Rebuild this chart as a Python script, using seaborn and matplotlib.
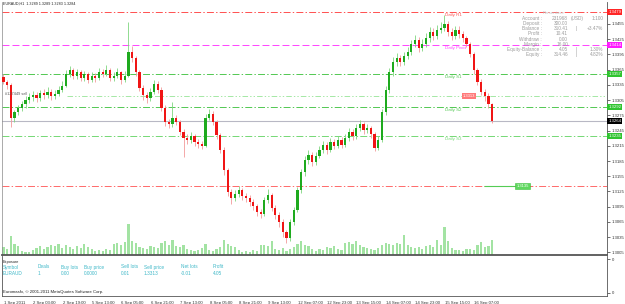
import matplotlib
matplotlib.use("Agg")
import matplotlib.pyplot as plt
import matplotlib.transforms as mtransforms
import numpy as np
import pandas as pd
import seaborn as sns

# EURAUD H1, grouped two bars per candle
first_open = 1.3350
closes = [
    1.3341, 1.3335, 1.3270, 1.3282, 1.3290, 1.3297, 1.3305, 1.3311, 1.3315, 1.3309,
    1.3319, 1.3315, 1.3321, 1.3313, 1.3317, 1.3325, 1.3333, 1.3357, 1.3364, 1.3353,
    1.3360, 1.3349, 1.3357, 1.3345, 1.3353, 1.3349, 1.3360, 1.3357, 1.3364, 1.3349,
    1.3353, 1.3360, 1.3345, 1.3353, 1.3400, 1.3388, 1.3360, 1.3329, 1.3315, 1.3309,
    1.3321, 1.3337, 1.3325, 1.3290, 1.3262, 1.3258, 1.3270, 1.3262, 1.3242, 1.3230,
    1.3227, 1.3234, 1.3223, 1.3219, 1.3215, 1.3270, 1.3278, 1.3262, 1.3236, 1.3207,
    1.3167, 1.3124, 1.3112, 1.3120, 1.3128, 1.3116, 1.3112, 1.3104, 1.3097, 1.3085,
    1.3081, 1.3108, 1.3118, 1.3093, 1.3079, 1.3065, 1.3045, 1.3033, 1.3065, 1.3089,
    1.3128, 1.3163, 1.3187, 1.3197, 1.3183, 1.3195, 1.3207, 1.3217, 1.3207, 1.3223,
    1.3215, 1.3227, 1.3217, 1.3230, 1.3242, 1.3234, 1.3250, 1.3258, 1.3246, 1.3250,
    1.3238, 1.3211, 1.3227, 1.3282, 1.3325, 1.3360, 1.3380, 1.3388, 1.3380, 1.3392,
    1.3400, 1.3416, 1.3424, 1.3408, 1.3416, 1.3427, 1.3439, 1.3431, 1.3443, 1.3447,
    1.3455, 1.3439, 1.3431, 1.3443, 1.3435, 1.3427, 1.3416, 1.3396, 1.3364, 1.3341,
    1.3321, 1.3313, 1.3297, 1.3264]
highs = [
    1.3356, 1.3345, 1.3338, 1.3286, 1.3296, 1.3303, 1.3312, 1.3318, 1.3322, 1.3320,
    1.3325, 1.3327, 1.3330, 1.3326, 1.3324, 1.3332, 1.3342, 1.3364, 1.3372, 1.3368,
    1.3367, 1.3364, 1.3363, 1.3360, 1.3360, 1.3358, 1.3368, 1.3366, 1.3374, 1.3368,
    1.3360, 1.3368, 1.3363, 1.3362, 1.3459, 1.3412, 1.3392, 1.3364, 1.3334, 1.3320,
    1.3328, 1.3345, 1.3342, 1.3330, 1.3295, 1.3268, 1.3301, 1.3276, 1.3266, 1.3248,
    1.3238, 1.3242, 1.3238, 1.3228, 1.3224, 1.3278, 1.3288, 1.3284, 1.3266, 1.3240,
    1.3212, 1.3172, 1.3130, 1.3128, 1.3136, 1.3132, 1.3122, 1.3118, 1.3110, 1.3100,
    1.3090, 1.3114, 1.3130, 1.3122, 1.3098, 1.3084, 1.3070, 1.3050, 1.3070, 1.3094,
    1.3134, 1.3170, 1.3194, 1.3206, 1.3202, 1.3202, 1.3214, 1.3224, 1.3222, 1.3230,
    1.3228, 1.3234, 1.3232, 1.3238, 1.3250, 1.3248, 1.3258, 1.3266, 1.3262, 1.3258,
    1.3254, 1.3242, 1.3234, 1.3288, 1.3332, 1.3368, 1.3390, 1.3398, 1.3394, 1.3400,
    1.3410, 1.3424, 1.3434, 1.3430, 1.3425, 1.3436, 1.3448, 1.3446, 1.3452, 1.3458,
    1.3473, 1.3460, 1.3446, 1.3450, 1.3450, 1.3440, 1.3432, 1.3420, 1.3400, 1.3368,
    1.3346, 1.3326, 1.3318, 1.3300]
lows = [
    1.3336, 1.3326, 1.3252, 1.3262, 1.3276, 1.3284, 1.3290, 1.3300, 1.3303, 1.3302,
    1.3304, 1.3308, 1.3310, 1.3306, 1.3307, 1.3312, 1.3320, 1.3330, 1.3350, 1.3346,
    1.3347, 1.3342, 1.3343, 1.3338, 1.3340, 1.3341, 1.3345, 1.3350, 1.3352, 1.3342,
    1.3343, 1.3348, 1.3336, 1.3340, 1.3350, 1.3380, 1.3352, 1.3322, 1.3306, 1.3300,
    1.3303, 1.3316, 1.3318, 1.3284, 1.3254, 1.3250, 1.3252, 1.3255, 1.3236, 1.3193,
    1.3218, 1.3220, 1.3215, 1.3210, 1.3208, 1.3212, 1.3266, 1.3256, 1.3228, 1.3200,
    1.3158, 1.3116, 1.3100, 1.3106, 1.3114, 1.3108, 1.3104, 1.3096, 1.3088, 1.3076,
    1.3072, 1.3076, 1.3102, 1.3086, 1.3070, 1.3056, 1.3036, 1.3024, 1.3028, 1.3060,
    1.3084, 1.3122, 1.3156, 1.3180, 1.3176, 1.3178, 1.3190, 1.3200, 1.3198, 1.3202,
    1.3208, 1.3210, 1.3210, 1.3212, 1.3225, 1.3226, 1.3228, 1.3244, 1.3238, 1.3240,
    1.3230, 1.3204, 1.3206, 1.3222, 1.3276, 1.3318, 1.3352, 1.3372, 1.3372, 1.3374,
    1.3386, 1.3394, 1.3410, 1.3400, 1.3402, 1.3410, 1.3420, 1.3424, 1.3426, 1.3436,
    1.3440, 1.3432, 1.3424, 1.3426, 1.3428, 1.3420, 1.3410, 1.3390, 1.3356, 1.3334,
    1.3314, 1.3304, 1.3290, 1.3260]
volumes = [
    8, 6, 19, 11, 9, 4, 3, 3, 5, 7,
    9, 6, 8, 10, 9, 11, 7, 10, 8, 6,
    9, 7, 11, 8, 6, 4, 5, 4, 6, 5,
    11, 12, 10, 13, 31, 14, 12, 8, 7, 6,
    9, 8, 7, 12, 14, 10, 15, 9, 8, 10,
    6, 5, 4, 5, 7, 11, 5, 4, 6, 8,
    15, 11, 9, 8, 5, 3, 4, 3, 5, 4,
    10, 10, 9, 14, 6, 5, 7, 4, 6, 8,
    11, 14, 10, 9, 6, 4, 6, 5, 8, 7,
    9, 6, 5, 12, 13, 11, 14, 10, 8, 7,
    6, 5, 7, 10, 12, 11, 10, 12, 11, 20,
    10, 8, 7, 8, 6, 9, 10, 8, 15, 10,
    28, 14, 7, 5, 5, 4, 6, 6, 5, 10,
    13, 8, 9, 15]

time_labels = ["1 Sep 2011", "2 Sep 03:00", "2 Sep 19:00", "5 Sep 13:00", "6 Sep 05:00",
               "6 Sep 21:00", "7 Sep 13:00", "8 Sep 05:00", "8 Sep 21:00", "9 Sep 13:00",
               "12 Sep 07:00", "12 Sep 23:00", "13 Sep 15:00", "14 Sep 07:00",
               "14 Sep 23:00", "15 Sep 15:00", "16 Sep 07:00"]
time_label_hours = [0, 16, 32, 48, 64, 80, 96, 112, 128, 144, 160, 176, 192, 208, 224, 240, 256]

price_ticks = [1.3005, 1.3035, 1.3065, 1.3095, 1.3125, 1.3155, 1.3185, 1.3215,
               1.3245, 1.3275, 1.3305, 1.3335, 1.3365, 1.3395, 1.3425, 1.3455]

level_names = ["Daily R1", "Daily Pivot", "Daily S1", "Daily S2", "Daily S3"]
level_prices = [1.3479, 1.3414, 1.3357, 1.3292, 1.3235]
order_price = 1.3313
tp_price = 1.3135
bid_price = 1.3264

acct_labels = ["Account :", "Deposit :", "Balance :", "Profit :", "Withdraw :",
               "Margin :", "Equity-Balance :", "Equity :"]
acct_values = ["231968", "300.00", "310.41", "10.41", "0.00", "16.00", "4.05", "314.46"]
acct_sep = ["(USD)", "", "|", "", "", "", "|", "|"]
acct_pct = ["1:100", "", "+3.47%", "", "", "", "1.30%", "4.82%"]

exp_cols = ["Symbol", "Deals", "Buy lots", "Buy price", "Sell lots", "Sell price", "Net lots", "Profit"]
exp_vals = ["EURAUD", "1", "0.00", "0.0000", "0.01", "1.3313", "-0.01", "4.05"]

sns.set_theme(style="white")
plt.rcParams["font.family"] = ["Liberation Sans", "DejaVu Sans"]
plt.rcParams["lines.scale_dashes"] = False

W, H = 625, 304
fig = plt.figure(figsize=(W / 100, H / 100), dpi=100, facecolor="white")


def fx(px):
    return px / W


def fy(py):
    return 1 - py / H


main_rect = [fx(2), fy(255), fx(607) - fx(2), fy(2) - fy(255)]
exp_rect = [fx(2), fy(296), fx(607) - fx(2), fy(256) - fy(296)]
vol_ax = fig.add_axes(main_rect)
ax = fig.add_axes(main_rect)
ax.set_facecolor("none")
ax_exp = fig.add_axes(exp_rect)

n = len(closes)
df = pd.DataFrame({
    "hour": np.arange(n) * 2 + 0.5,
    "open": [first_open] + closes[:-1],
    "close": closes,
    "high": highs,
    "low": lows,
    "volume": volumes,
})
df["up"] = df["close"] >= df["open"]
xlim = (-0.3, 329)

# volume histogram along the bottom of the price window
sns.barplot(data=df, x="hour", y="volume", native_scale=True, width=0.6,
            color="#a3e3a3", saturation=1, errorbar=None, linewidth=0, ax=vol_ax)
vol_ax.set_xlim(*xlim)
vol_ax.set_ylim(0, 253)
vol_ax.axis("off")

# candles
wick_cols = np.where(df["up"], "#7fd67f", "#f29a9a")
ax.vlines(df["hour"], df["low"], df["high"], colors=wick_cols, lw=0.6, zorder=2)
for flag, col in [(True, "#1eaa1e"), (False, "#f01515")]:
    d = df[df["up"] == flag]
    body = (d["close"] - d["open"]).abs().clip(lower=0.00008)
    ax.bar(d["hour"], body, bottom=d[["open", "close"]].min(axis=1), width=1.2,
           color=col, linewidth=0, zorder=3)

ax.set_xlim(*xlim)
ax.set_ylim(1.3000, 1.3498)
ax.set_xticks([])
ax.yaxis.tick_right()
ax.set_yticks(price_ticks, [f"{p:.4f}" for p in price_ticks])
ax.tick_params(axis="y", length=2, width=0.5, pad=1.5, labelsize=3.1,
               colors="#333333", direction="out")
ax.spines["top"].set_visible(False)
ax.spines["left"].set(color="#888888", lw=0.5)
ax.spines["right"].set(color="#555555", lw=0.6)
ax.spines["bottom"].set(color="#555555", lw=1.3)

axis_y = mtransforms.blended_transform_factory(ax.transAxes, ax.transData)


def price_box(price, face):
    ax.text(1.002, price, f"{price:.4f}", transform=axis_y, ha="left", va="center",
            fontsize=3.1, color="white", zorder=10, clip_on=False,
            bbox=dict(boxstyle="square,pad=0.25", fc=face, ec="none"))


# pivot levels
level_colors = ["#ff5050", "#ff44ff", "#52c852", "#52c852", "#74d874"]
level_boxes = ["#ff2626", "#ff1aff", "#30c430", "#30c430", "#30c430"]
level_dash = [(0, (5, 1.6, 1, 1.6)), (0, (5, 2.2)), (0, (5, 1.6, 1, 1.6)),
              (0, (5, 1.6, 1, 1.6)), (0, (5, 1.6, 1, 1.6))]
for name, price, col, box, dash in zip(level_names, level_prices, level_colors, level_boxes, level_dash):
    ax.axhline(price, color=col, lw=0.7, ls=dash, zorder=1)
    ax.annotate(name, xy=(241, price), xytext=(0, -1), textcoords="offset points",
                ha="left", va="top", fontsize=3.2, color=col, zorder=5)
    price_box(price, box)

# open sell order and its target
ax.hlines(order_price, 35, xlim[1], color="#a5e8a5", lw=0.7,
          ls=(0, (4, 1.5, 1, 1.5, 1, 1.5)), zorder=1)
fig.text(fx(5), fy(94), "#127449 sell", fontsize=2.8, color="#555555", va="center", ha="left")
ax.text(254, order_price, f"{order_price:.4f}", ha="center", va="center", fontsize=3,
        color="white", zorder=6, bbox=dict(boxstyle="square,pad=0.25", fc="#ff7a7a", ec="none"))
ax.axhline(tp_price, color="#ff6a6a", lw=0.7, ls=(0, (5, 1.6, 1, 1.6)), zorder=1)
ax.hlines(tp_price, 262, 279, color="#55cc55", lw=0.8, zorder=2)
ax.text(283, tp_price, f"{tp_price:.4f}", ha="center", va="center", fontsize=3,
        color="white", zorder=6, bbox=dict(boxstyle="square,pad=0.25", fc="#5ed85e", ec="#3fbf3f", lw=0.4))

# bid line
ax.axhline(bid_price, color="#b8b8c4", lw=0.8, zorder=1)
price_box(bid_price, "#000000")

# chart caption
fig.text(fx(3), fy(4), "EURAUD,H1  1.3289 1.3289 1.3283 1.3284", fontsize=2.7,
         color="#222222", va="center", ha="left")

# account info block
txt_grey = "#9c9c9c"
fig.text(fx(543), fy(13), "Persentase", fontsize=3.2, color="#c4c4c4", va="center", ha="left")
for k, (lab, val, sep, pct) in enumerate(zip(acct_labels, acct_values, acct_sep, acct_pct)):
    yy = fy(18.5 + 5.15 * k)
    fig.text(fx(542), yy, lab, fontsize=3.4, color=txt_grey, va="center", ha="right")
    fig.text(fx(568), yy, val, fontsize=3.4, color=txt_grey, va="center", ha="right")
    if sep == "|":
        fig.text(fx(576), yy, sep, fontsize=3.4, color=txt_grey, va="center", ha="center")
    elif sep:
        fig.text(fx(571), yy, sep, fontsize=3.4, color=txt_grey, va="center", ha="left")
    if pct:
        fig.text(fx(603), yy, pct, fontsize=3.4, color=txt_grey, va="center", ha="right")

# exposure window
ax_exp.set_xlim(*xlim)
ax_exp.set_ylim(0, 1)
ax_exp.yaxis.tick_right()
ax_exp.set_yticks([0.08, 0.92], ["0", "0"])
ax_exp.set_xticks(time_label_hours, time_labels)
ax_exp.tick_params(axis="x", length=2.5, width=0.5, pad=0.8, labelsize=3.1,
                   colors="#333333", direction="out")
ax_exp.tick_params(axis="y", length=2, width=0.5, pad=1.5, labelsize=3.1,
                   colors="#333333", direction="out")
shift = mtransforms.ScaledTranslation(1.2 / 100, 0, fig.dpi_scale_trans)
for lbl in ax_exp.get_xticklabels():
    lbl.set_ha("left")
    lbl.set_transform(lbl.get_transform() + shift)
ax_exp.spines["top"].set_visible(False)
for side in ["left", "right", "bottom"]:
    ax_exp.spines[side].set(color="#555555", lw=0.6)

fig.text(fx(3), fy(262), "Exposure", fontsize=2.8, color="#222222", va="center", ha="left")
col_x = [3, 38, 61, 84, 121, 144, 181, 213]
teal = "#3fb8c8"
for cx, head, val in zip(col_x, exp_cols, exp_vals):
    fig.text(fx(cx), fy(267), head, fontsize=3.4, color=teal, va="center", ha="left")
    fig.text(fx(cx), fy(273.5), val, fontsize=3.4, color=teal, va="center", ha="left")
fig.text(fx(3), fy(291.5), "Euromasfx, \u00a9 2001-2011 MetaQuotes Software Corp.", fontsize=3.1,
         color="#222222", va="center", ha="left")

fig.savefig("out.png", dpi=100, facecolor="white")
